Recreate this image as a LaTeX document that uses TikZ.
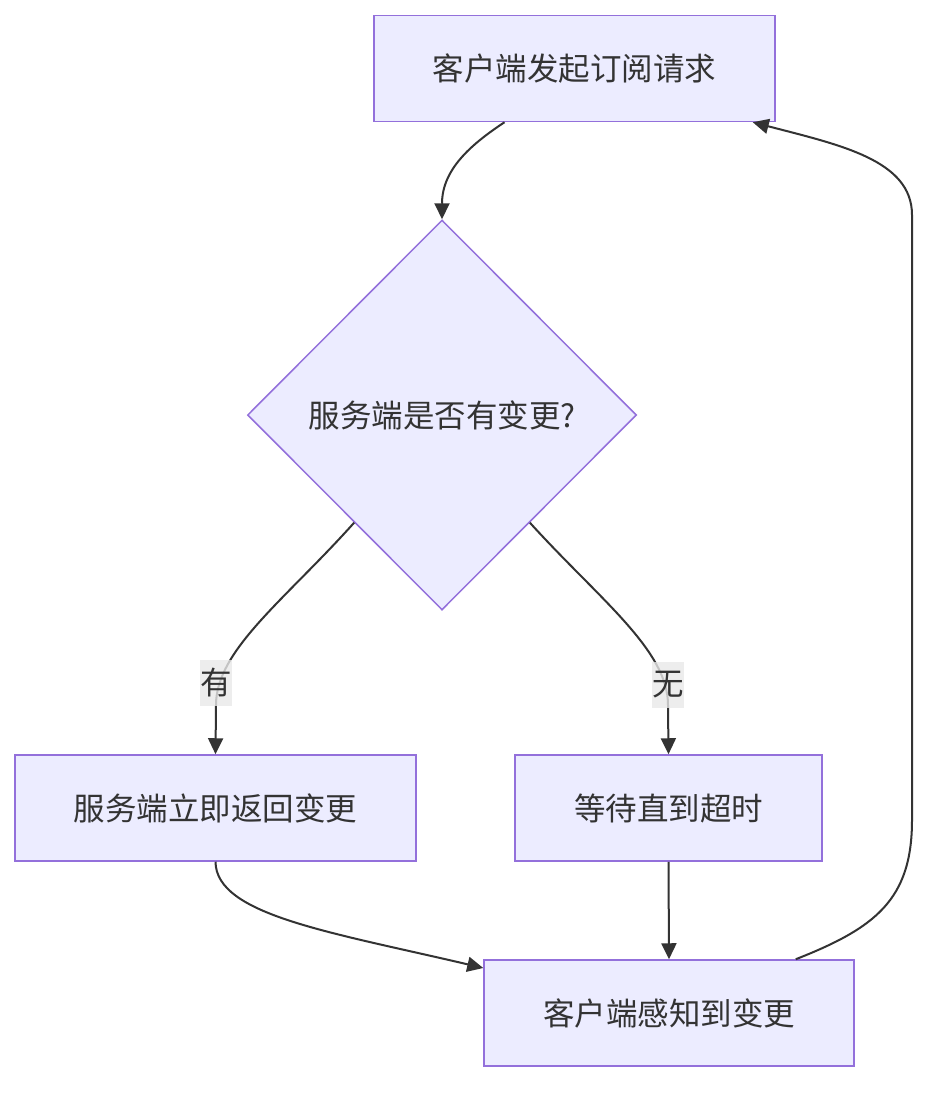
\documentclass[tikz,border=0pt]{standalone}
\usepackage{fontspec}
\newfontfamily\cjk{Noto Sans CJK SC}
\usetikzlibrary{shapes.geometric,arrows.meta,calc}
\definecolor{boxfill}{HTML}{ECECFF}
\definecolor{boxline}{HTML}{9370DB}
\definecolor{ink}{HTML}{333333}
\definecolor{lblfill}{HTML}{E8E8E8}
\tikzset{
  stepbox/.style={draw=boxline,fill=boxfill,line width=1.5pt,minimum height=106pt,inner sep=0pt,text=ink,font=\cjk\fontsize{31.5}{36}\selectfont},
  choice/.style={diamond,shape aspect=1,draw=boxline,fill=boxfill,line width=1.5pt,minimum width=389pt,minimum height=390pt,inner sep=0pt,text=ink,font=\cjk\fontsize{31.5}{36}\selectfont},
  flow/.style={draw=ink,line width=2pt,-{Triangle[length=16pt,width=15pt]}},
  edgelbl/.style={fill=lblfill,fill opacity=0.8,text opacity=1,text=ink,minimum width=31pt,minimum height=46pt,inner sep=0pt,font=\cjk\fontsize{31.5}{36}\selectfont}
}
\begin{document}
\begin{tikzpicture}[x=1pt,y=-1pt]
\useasboundingbox(0,0) rectangle (944,1100);
\node[stepbox,minimum width=401pt] (sub) at (574.5,68.5){客户端发起订阅请求};
\node[choice] (chg) at (442,415){服务端是否有变更?};
\node[stepbox,minimum width=401pt] (ret) at (215.5,808){服务端立即返回变更};
\node[stepbox,minimum width=307pt] (wait) at (668.5,808){等待直到超时};
\node[stepbox,minimum width=370pt] (sense) at (669,1013){客户端感知到变更};
\coordinate (cl) at ($(chg.west)!0.55!(chg.south)$);
\coordinate (cr) at ($(chg.east)!0.55!(chg.south)$);
% connectors
\draw[flow]([xshift=-70pt]sub.south) .. controls (470,145) and (442,170) .. (chg.north);
\draw[flow](cl) .. controls (285,600) and (216,650) .. (216,705) -- (ret.north);
\draw[flow](cr) .. controls (600,600) and (668,650) .. (668,705) -- (wait.north);
\draw[flow](ret.south) .. controls (216,915) and (330,932) .. ([yshift=45pt]sense.west);
\draw[flow](wait.south) -- (sense.north);
\draw[flow]([xshift=-59pt]sense.north east) .. controls (875,928) and (912,900) .. (912,820)
  -- (912,215) .. controls (912,160) and (840,145) .. ([xshift=-23pt]sub.south east);
% labels
\node[edgelbl] (yes) at (216,683){有};
\node[edgelbl] (no) at (668,685){无};
\end{tikzpicture}
\end{document}
